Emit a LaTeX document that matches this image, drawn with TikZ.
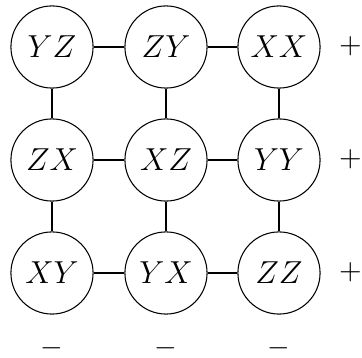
\documentclass[tikz,border=0pt]{standalone}
\begin{document}
\begin{tikzpicture}[x=0.3774pt,y=-0.3774pt,
  font=\fontsize{11.5}{14}\selectfont,
  qnode/.style={circle,draw,inner sep=1pt,minimum size=31pt},
  sgn/.style={inner sep=0pt,font=\fontsize{11.3}{14}\selectfont}]
\useasboundingbox (0,0) rectangle (362,358);
\node[qnode] (a1) at (52,47) {$YZ$};
\node[qnode] (a2) at (166,47) {$ZY$};
\node[qnode] (a3) at (279,47) {$XX$};
\node[qnode] (b1) at (52,160) {$ZX$};
\node[qnode] (b2) at (166,160) {$XZ$};
\node[qnode] (b3) at (279,160) {$YY$};
\node[qnode] (c1) at (52,273) {$XY$};
\node[qnode] (c2) at (166,273) {$YX$};
\node[qnode] (c3) at (279,273) {$ZZ$};
\node[sgn] (p1) at (350.5,46) {$+$};
\node[sgn] (p2) at (350.5,159) {$+$};
\node[sgn] (p3) at (350.5,272) {$+$};
\node[sgn] (m1) at (52,348) {$-$};
\node[sgn] (m2) at (166,348) {$-$};
\node[sgn] (m3) at (279,348) {$-$};
\foreach \r in {a,b,c}{
  \draw (\r1) -- (\r2);
  \draw (\r2) -- (\r3);
}
\foreach \c in {1,2,3}{
  \draw (a\c) -- (b\c);
  \draw (b\c) -- (c\c);
}
\end{tikzpicture}
\end{document}
